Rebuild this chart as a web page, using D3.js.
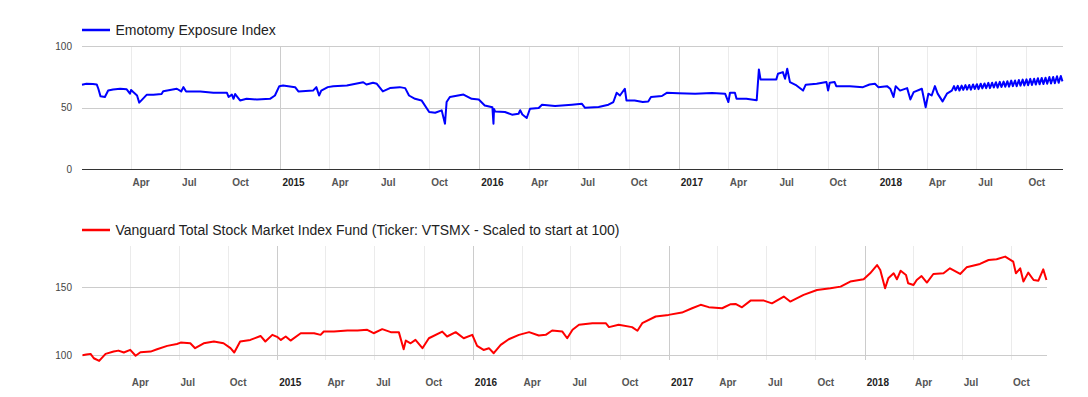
<!DOCTYPE html>
<html><head><meta charset="utf-8">
<script src="https://cdn.jsdelivr.net/npm/d3@7"></script>
<style>
body{margin:0;background:#fff}
svg{display:block}
text{font-family:Arial,"Liberation Sans",sans-serif}
</style>
</head><body>
<svg id="c" width="1088" height="397"></svg>
<script>
const topTitle = "Emotomy Exposure Index";
const bottomTitle = "Vanguard Total Stock Market Index Fund (Ticker: VTSMX - Scaled to start at 100)";
const dateStart = "2014-01-02";
const dateEnd = "2018-12-07";
const topYTicks = [0, 50, 100];
const bottomYTicks = [100, 150];

const topDates = [
"2014-01-02","2014-01-10","2014-01-22","2014-01-29","2014-02-01","2014-02-05","2014-02-13","2014-02-19","2014-02-28","2014-03-13",
"2014-03-25","2014-03-31","2014-04-02","2014-04-06","2014-04-13","2014-04-17","2014-04-21","2014-05-01","2014-05-13","2014-05-28",
"2014-05-31","2014-06-25","2014-07-03","2014-07-07","2014-07-12","2014-08-07","2014-08-31","2014-09-25","2014-09-28","2014-10-04",
"2014-10-07","2014-10-10","2014-10-19","2014-10-31","2014-11-19","2014-12-13","2014-12-22","2014-12-30","2015-01-06","2015-01-28",
"2015-02-03","2015-03-02","2015-03-08","2015-03-13","2015-03-17","2015-03-29","2015-04-08","2015-05-03","2015-06-02","2015-06-08",
"2015-06-20","2015-06-27","2015-07-08","2015-07-21","2015-08-08","2015-08-18","2015-08-25","2015-09-05","2015-09-17","2015-10-01",
"2015-10-12","2015-10-24","2015-10-30","2015-11-02","2015-11-08","2015-11-23","2015-12-03","2015-12-18","2015-12-31","2016-01-11",
"2016-01-25","2016-01-27","2016-01-28","2016-01-30","2016-02-17","2016-03-01","2016-03-13","2016-03-16","2016-03-20","2016-03-28",
"2016-04-03","2016-04-19","2016-04-25","2016-05-19","2016-06-19","2016-07-07","2016-07-13","2016-08-07","2016-08-25","2016-09-03",
"2016-09-09","2016-09-15","2016-09-24","2016-09-27","2016-10-12","2016-10-27","2016-11-06","2016-11-11","2016-12-01","2016-12-10",
"2016-12-31","2017-01-31","2017-03-03","2017-03-27","2017-04-02","2017-04-05","2017-04-14","2017-04-17","2017-05-05","2017-05-24",
"2017-05-28","2017-05-31","2017-06-29","2017-07-02","2017-07-11","2017-07-15","2017-07-19","2017-07-24","2017-08-05","2017-08-17",
"2017-08-22","2017-09-11","2017-09-29","2017-10-02","2017-10-05","2017-10-14","2017-10-17","2017-11-11","2017-12-05","2017-12-17",
"2017-12-27","2018-01-02","2018-01-18","2018-01-24","2018-01-30","2018-02-03","2018-02-11","2018-02-24","2018-03-02","2018-03-08",
"2018-03-23","2018-03-30","2018-04-04","2018-04-10","2018-04-16","2018-04-21","2018-04-30","2018-05-08","2018-05-17",
"2018-05-21","2018-05-24","2018-05-28","2018-05-31","2018-06-04","2018-06-07","2018-06-11","2018-06-14","2018-06-18","2018-06-21",
"2018-06-25","2018-06-28","2018-07-02","2018-07-05","2018-07-09","2018-07-12","2018-07-16","2018-07-19","2018-07-23","2018-07-26",
"2018-07-30","2018-08-02","2018-08-06","2018-08-09","2018-08-13","2018-08-16","2018-08-20","2018-08-23","2018-08-27","2018-08-30",
"2018-09-03","2018-09-06","2018-09-10","2018-09-13","2018-09-17","2018-09-20","2018-09-24","2018-09-27","2018-10-01","2018-10-04",
"2018-10-08","2018-10-11","2018-10-15","2018-10-18","2018-10-22","2018-10-25","2018-10-29","2018-11-01","2018-11-05","2018-11-08",
"2018-11-12","2018-11-15","2018-11-19","2018-11-22","2018-11-26","2018-11-29","2018-12-03","2018-12-06"
];
const topValues = [
68.8,69.5,69.3,69.0,65.5,59.3,58.8,64.0,64.8,65.5,
65.0,61.5,64.5,62.8,60.0,54.2,56.0,60.7,60.7,61.2,
63.4,65.5,63.3,66.8,63.3,63.3,62.2,62.2,58.8,60.7,
57.3,61.2,56.0,57.3,56.8,57.3,60.0,67.6,68.1,66.8,
63.3,64.0,66.8,60.0,64.0,66.8,67.6,68.1,70.8,68.9,
70.3,69.5,63.3,66.0,66.8,66.0,60.0,57.3,56.0,46.6,
46.0,47.9,37.0,54.7,58.8,60.0,60.8,57.3,56.8,51.9,
50.5,37.0,49.0,47.0,46.6,44.4,45.2,48.0,44.5,41.7,
49.2,49.8,52.5,51.4,52.5,53.3,50.0,50.6,52.5,54.7,
62.2,60.0,65.5,56.0,56.0,54.7,55.2,58.8,59.6,62.2,
61.8,61.5,62.0,61.5,54.7,62.2,62.2,57.3,57.3,56.2,
81.2,73.1,73.1,77.7,79.0,73.6,81.8,70.9,68.2,64.0,
68.8,69.5,70.9,64.0,70.3,70.9,67.6,67.6,66.8,68.9,
69.5,66.8,67.6,65.5,58.8,67.6,64.0,66.0,56.8,62.8,
65.5,50.5,61.5,60.0,67.6,61.5,55.2,61.5,64.0,
67.6,64.2,67.9,64.0,68.0,64.6,68.5,64.8,68.6,64.7,
69.0,65.3,69.2,65.2,69.6,65.8,69.8,65.9,70.3,66.0,
70.4,66.5,70.8,66.4,71.1,66.9,71.3,67.1,71.6,67.2,
72.1,67.6,72.2,67.5,72.6,68.0,72.9,68.2,73.1,68.4,
73.5,68.6,73.6,68.9,74.1,69.1,74.3,69.3,74.5,69.6,
75.0,69.8,75.1,70.0,75.6,70.3,75.8,71.5
];

const bottomDates = [
"2014-01-03","2014-01-10","2014-01-18","2014-01-24","2014-02-03","2014-02-15","2014-03-02","2014-03-11","2014-03-21","2014-04-02",
"2014-04-12","2014-04-21","2014-05-10","2014-05-22","2014-06-10","2014-06-28","2014-07-05","2014-07-23","2014-08-01","2014-08-17",
"2014-09-05","2014-09-23","2014-10-06","2014-10-13","2014-10-24","2014-11-12","2014-12-01","2014-12-10","2014-12-23","2015-01-02",
"2015-01-08","2015-01-17","2015-01-26","2015-02-14","2015-03-11","2015-03-23","2015-03-29","2015-04-17","2015-05-12","2015-05-31",
"2015-06-18","2015-06-30","2015-07-16","2015-08-01","2015-08-16","2015-08-25","2015-08-29","2015-09-07","2015-09-16","2015-09-29",
"2015-10-11","2015-11-05","2015-11-14","2015-11-30","2015-12-15","2015-12-31","2016-01-09","2016-01-21","2016-01-31","2016-02-09",
"2016-02-22","2016-03-08","2016-03-27","2016-04-15","2016-05-03","2016-05-16","2016-05-28","2016-06-16","2016-06-25","2016-07-05",
"2016-07-17","2016-08-11","2016-09-05","2016-09-11","2016-09-29","2016-10-24","2016-11-03","2016-11-12","2016-12-07","2016-12-31",
"2017-01-25","2017-02-13","2017-03-01","2017-03-16","2017-04-10","2017-04-26","2017-05-05","2017-05-17","2017-06-02","2017-06-27",
"2017-07-12","2017-08-03","2017-08-15","2017-09-09","2017-10-04","2017-10-29","2017-11-17","2017-12-05","2017-12-30","2018-01-11",
"2018-01-24","2018-01-30","2018-02-08","2018-02-14","2018-02-24","2018-03-02","2018-03-09","2018-03-19","2018-03-23","2018-04-02",
"2018-04-08","2018-04-17","2018-04-27","2018-05-09","2018-05-28","2018-06-09","2018-06-28","2018-07-10","2018-08-04","2018-08-20",
"2018-09-04","2018-09-20","2018-10-05","2018-10-10","2018-10-18","2018-10-24","2018-11-02","2018-11-12","2018-11-21","2018-11-30",
"2018-12-06"
];
const bottomValues = [
100.0,100.5,101.0,97.8,95.8,101.0,102.7,103.4,102.0,104.0,
99.6,102.2,102.7,104.4,106.9,108.3,109.3,108.8,105.2,108.8,
110.1,108.8,105.2,102.0,110.1,111.3,114.2,110.1,115.0,113.3,
111.3,113.8,110.8,116.2,116.2,115.0,117.5,117.5,118.2,118.2,
118.7,116.2,119.2,117.0,117.0,104.4,110.8,108.8,111.3,105.2,
112.5,117.4,113.8,117.0,112.5,115.0,106.9,103.9,105.2,101.5,
107.6,111.8,115.0,117.0,114.5,115.0,118.2,117.4,112.5,118.7,
122.4,123.6,123.6,120.7,122.4,120.7,118.0,123.6,128.5,129.7,
131.4,134.6,137.1,135.4,134.6,137.6,137.8,135.3,140.2,140.2,
138.2,143.2,139.5,144.4,148.0,149.3,150.5,154.2,155.9,160.3,
166.4,162.7,149.3,156.6,160.3,155.9,162.2,159.1,153.0,151.7,
155.4,158.3,153.5,159.8,160.3,164.0,159.8,164.7,167.2,170.1,
170.6,172.6,168.9,160.3,164.0,154.2,160.8,155.4,154.9,163.2,
155.4
];

const parse = d3.timeParse("%Y-%m-%d");
const svg = d3.select("#c");

function panel(cfg) {
  const x = d3.scaleTime().domain([parse(dateStart), parse(dateEnd)]).range([cfg.x0, cfg.x1]);
  const y = d3.scaleLinear().domain(cfg.yDomain).range([cfg.yBottom, cfg.yTop]);
  const g = svg.append("g");
  const ticks = x.ticks(d3.timeMonth.every(3));

  // vertical gridlines
  g.append("g").selectAll("line").data(ticks).join("line")
    .attr("x1", d => Math.round(x(d)) + 0.5).attr("x2", d => Math.round(x(d)) + 0.5)
    .attr("y1", cfg.yTop).attr("y2", cfg.yBottom)
    .attr("stroke", d => d.getMonth() === 0 ? "#cccccc" : "#ebebeb")
    .attr("stroke-width", 1);

  // horizontal gridlines
  g.append("g").selectAll("line").data(cfg.yTicks).join("line")
    .attr("x1", cfg.x0).attr("x2", cfg.x1)
    .attr("y1", d => Math.round(y(d)) + 0.5).attr("y2", d => Math.round(y(d)) + 0.5)
    .attr("stroke", d => (cfg.baseline && d === 0) ? "#333333" : "#cccccc")
    .attr("stroke-width", 1);

  // y labels
  g.append("g").selectAll("text").data(cfg.yTicks).join("text")
    .attr("x", cfg.x0 - 10).attr("y", d => y(d) + 3.6)
    .attr("text-anchor", "end").attr("font-size", 10).attr("fill", "#444")
    .text(d => d);

  // x axis labels
  const fmt = d => d.getMonth() === 0 ? d3.timeFormat("%Y")(d) : d3.timeFormat("%b")(d);
  const axg = g.append("g").attr("transform", `translate(0,${cfg.labelY})`)
    .call(d3.axisBottom(x).tickValues(ticks).tickSize(0).tickFormat(fmt));
  axg.select(".domain").remove();
  axg.selectAll("text")
    .attr("y", 0).attr("dy", 0).attr("x", 1.5)
    .attr("text-anchor", "start")
    .attr("font-family", "Arial, 'Liberation Sans', sans-serif")
    .attr("font-size", 10).attr("font-weight", "bold")
    .attr("fill", d => d.getMonth() === 0 ? "#222" : "#555");

  // line
  const data = cfg.dates.map((d, i) => ({ date: parse(d), value: cfg.values[i] }));
  g.append("path").datum(data)
    .attr("fill", "none").attr("stroke", cfg.color).attr("stroke-width", 2)
    .attr("stroke-linejoin", "round")
    .attr("d", d3.line().x(d => x(d.date)).y(d => y(d.value)));

  // legend
  g.append("line").attr("x1", 82).attr("x2", 110).attr("y1", cfg.legendY).attr("y2", cfg.legendY)
    .attr("stroke", cfg.color).attr("stroke-width", 2.5);
  g.append("text").attr("x", 115.5).attr("y", cfg.legendY + 5)
    .attr("font-size", 14).attr("fill", "#222").text(cfg.title);
}

panel({
  title: topTitle, color: "#0000ff", dates: topDates, values: topValues,
  x0: 82, x1: 1063, yTop: 46.3, yBottom: 169.3, yDomain: [0, 100],
  yTicks: topYTicks, labelY: 185.5, legendY: 30, baseline: true
});
panel({
  title: bottomTitle, color: "#ff0000", dates: bottomDates, values: bottomValues,
  x0: 82, x1: 1047, yTop: 246, yBottom: 360, yDomain: [96.5, 180.4],
  yTicks: bottomYTicks, labelY: 386, legendY: 230, baseline: false
});
</script>
</body></html>
